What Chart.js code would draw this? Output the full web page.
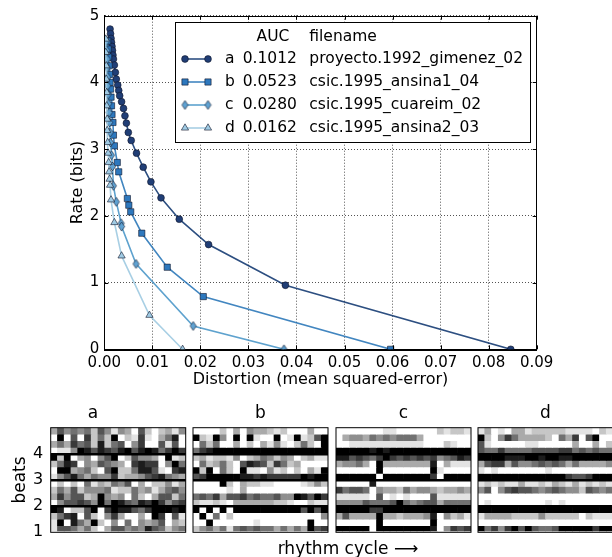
<!DOCTYPE html>
<html><head><meta charset="utf-8">
<script src="https://cdn.jsdelivr.net/npm/chart.js@4.4.0/dist/chart.umd.min.js"></script>
<style>
html,body{margin:0;padding:0;background:#fff;overflow:hidden;width:612px;height:557px;}
#wrap{position:relative;width:612px;height:557px;overflow:hidden;}
canvas{position:absolute;top:0;}
#xlab{position:absolute;left:238px;width:220px;top:538px;text-align:center;font-family:'DejaVu Sans',sans-serif;font-size:17px;line-height:20px;color:#000;white-space:nowrap;}
</style></head>
<body><div id="wrap">
<canvas id="rd" width="612" height="400" style="left:0;top:0"></canvas>
<canvas id="pa" width="188" height="157" style="left:0;top:400px"></canvas>
<canvas id="pb" width="141" height="157" style="left:190px;top:400px"></canvas>
<canvas id="pc" width="141" height="157" style="left:332.5px;top:400px"></canvas>
<canvas id="pd" width="141" height="157" style="left:474.5px;top:400px"></canvas>
<div id="xlab">rhythm cycle &#x27F6;</div>
</div>
<script>
// ---------------- data: rate-distortion curves ----------------
const seriesLetters = ['a','b','c','d'];
const aucValues = ['0.1012','0.0523','0.0280','0.0162'];
const fileNames = ['proyecto.1992_gimenez_02','csic.1995_ansina1_04','csic.1995_cuareim_02','csic.1995_ansina2_03'];

const distA = [0.0012,0.0013,0.0014,0.0015,0.0016,0.0017,0.0018,0.0019,0.0021,0.0023,0.0025,0.0028,0.0030,0.0032,0.0036,0.0040,0.0043,0.0046,0.0050,0.0056,0.0067,0.0081,0.0097,0.0118,0.0156,0.0217,0.0377,0.0846];
const rateA = [4.80,4.73,4.66,4.60,4.54,4.48,4.41,4.35,4.26,4.15,4.05,3.96,3.88,3.80,3.71,3.61,3.50,3.39,3.25,3.13,2.94,2.73,2.51,2.27,1.95,1.57,0.96,0];

const distB = [0.0007,0.0008,0.0009,0.0010,0.0011,0.0012,0.0013,0.0014,0.0015,0.0016,0.0018,0.0019,0.0021,0.0027,0.0030,0.0048,0.0051,0.0055,0.0078,0.0131,0.0206,0.0596];
const rateB = [4.62,4.50,4.38,4.25,4.12,4.00,3.90,3.78,3.65,3.52,3.40,3.21,3.05,2.80,2.66,2.26,2.16,2.06,1.74,1.23,0.79,0];

const distC = [0.0005,0.0005,0.0006,0.0006,0.0007,0.0007,0.0008,0.0009,0.0010,0.0011,0.0012,0.0013,0.0015,0.0017,0.0019,0.0025,0.0035,0.0036,0.0066,0.0185,0.0374];
const rateC = [4.62,4.48,4.35,4.22,4.08,3.95,3.82,3.68,3.55,3.40,3.25,3.10,2.91,2.74,2.45,2.21,1.89,1.84,1.28,0.35,0];

const distD = [0.0003,0.0003,0.0004,0.0004,0.0005,0.0005,0.0006,0.0006,0.0007,0.0008,0.0009,0.0010,0.0011,0.0012,0.0014,0.0021,0.0036,0.0094,0.0163];
const rateD = [4.65,4.45,4.25,4.05,3.85,3.65,3.45,3.28,3.10,2.94,2.80,2.66,2.55,2.46,2.24,1.90,1.40,0.51,0];

// ---------------- data: beat heatmaps (top row first, 0 = white .. 9 = black) ----------------
const beatTickLabels = ['1','2','3','4'];
const cycleLabels = ['1','2','3','4','5','6','7','8','9','10','11','12','13','14','15','16','17','18','19','20'];
const panelTitles = ['a','b','c','d'];
const heatA = [
"36454526414306202314","09060725290217103580","35375628256047006160","01149868768968985797",
"92903404690264430912","25870436543078770495","09934520692258861078","14685354472334678543",
"02020513254603022413","25362444512253413564","37466239434052036625","04667649598658797467",
"98022690798865799989","25780620473003097061","19085392040504346032","16653520366454865245"];
const heatB = [
"00002030433212000300","92194090910090191269","05250030203141025209","57899999999999999999",
"23122140235424302311","05235206876275230000","92905209110412020319","67999998878777779899",
"00009203221100001242","00000103000000000000","56573667565564498697","21121033333322100211",
"90909099999999996969","09050200000000000004","00900000010000000900","24535156565535353967"];
const heatC = [
"00000001100000021221","03443545455530000000","00111111111110002100","99999898999999999999",
"88676579767676745687","34453093333333803111","00000090000000910000","99999909999999709999",
"00000800000000000000","75665043325344323343","11111060101000611111","44446555695456635555",
"99999779999999999999","36333393323334804231","00000090000000900000","99999099999999804767"];
const heatD = [
"13010331222221111021","92047533332053706900","61000001100000300302","65575555666677565655",
"99998889989988999999","36773644565653533334","10100000001000000000","99999999999997667999",
"12121131121321312121","46046766545654426545","00000000000000000000","01000000001010000000",
"99999999999999999999","13333222242222202111","00000000000000000000","95747969655699999799"];

// ---------------- styling ----------------
const FONT = "'DejaVu Sans', sans-serif";
const lineColors = ['rgba(8,48,107,0.85)','rgba(33,113,181,0.85)','rgba(66,146,198,0.85)','rgba(158,202,225,0.9)'];
const markColors = ['rgb(32,62,118)','rgb(45,120,190)','rgb(95,162,210)','rgb(160,203,228)'];
const edgeColor = 'rgba(15,20,40,0.75)';

function thinDiamond(fill){
  const c = document.createElement('canvas'); c.width = 9; c.height = 11;
  const g = c.getContext('2d');
  g.beginPath(); g.moveTo(4.5,1); g.lineTo(7.6,5.5); g.lineTo(4.5,10); g.lineTo(1.4,5.5); g.closePath();
  g.fillStyle = fill; g.fill(); g.lineWidth = 0.8; g.strokeStyle = edgeColor; g.stroke();
  return c;
}
const diamondImg = thinDiamond(markColors[2]);
const pointStyles = ['circle','rect',diamondImg,'triangle'];
const pointRadii = [3.4,4.4,4,4.2];

function pts(xs, ys){ return xs.map((x,i)=>({x:x, y:ys[i]})); }
const allSeries = [pts(distA,rateA),pts(distB,rateB),pts(distC,rateC),pts(distD,rateD)];

const frameTicks = {
  id:'frameTicks',
  afterDraw(chart){
    const {ctx, chartArea:a, scales} = chart;
    ctx.save();
    ctx.strokeStyle = '#000'; ctx.lineWidth = 1;
    ctx.beginPath();
    scales.x.ticks.forEach(t=>{
      const px = Math.round(scales.x.getPixelForValue(t.value))+0.5;
      ctx.moveTo(px,a.bottom); ctx.lineTo(px,a.bottom-4);
      ctx.moveTo(px,a.top); ctx.lineTo(px,a.top+4);
    });
    scales.y.ticks.forEach(t=>{
      const py = Math.round(scales.y.getPixelForValue(t.value))+0.5;
      ctx.moveTo(a.left,py); ctx.lineTo(a.left+4,py);
      ctx.moveTo(a.right,py); ctx.lineTo(a.right-4,py);
    });
    ctx.stroke();
    ctx.strokeRect(Math.round(a.left)+0.5, Math.round(a.top)+0.5, Math.round(a.right-a.left), Math.round(a.bottom-a.top));
    ctx.restore();
  }
};

function drawMarker(ctx, i, x, y){
  ctx.save();
  ctx.fillStyle = markColors[i]; ctx.strokeStyle = edgeColor; ctx.lineWidth = 0.8;
  const r = pointRadii[i];
  ctx.beginPath();
  if (i===0){ ctx.arc(x,y,r,0,Math.PI*2); }
  else if (i===1){ const s=r*Math.SQRT1_2; ctx.rect(x-s,y-s,2*s,2*s); }
  else if (i===2){ ctx.restore(); ctx.drawImage(diamondImg, x-4.5, y-5.5); return; }
  else { ctx.moveTo(x, y-r); ctx.lineTo(x+r*0.866, y+r*0.5); ctx.lineTo(x-r*0.866, y+r*0.5); ctx.closePath(); }
  ctx.fill(); ctx.stroke();
  ctx.restore();
}

const tableLegend = {
  id:'tableLegend',
  afterDraw(chart){
    const ctx = chart.ctx;
    ctx.save();
    ctx.fillStyle = '#fff'; ctx.fillRect(175.5,22.5,355,120);
    ctx.strokeStyle = '#000'; ctx.lineWidth = 1; ctx.strokeRect(175.5,22.5,355,120);
    ctx.font = '15.5px ' + FONT; ctx.fillStyle = '#000'; ctx.textBaseline = 'middle';
    ctx.textAlign = 'center'; ctx.fillText('AUC', 273, 36.5);
    ctx.textAlign = 'left'; ctx.fillText('filename', 309.3, 36.5);
    const rowsY = [59, 82, 105, 128];
    for (let i=0;i<4;i++){
      const y = rowsY[i];
      ctx.strokeStyle = lineColors[i]; ctx.lineWidth = 1.6;
      ctx.beginPath(); ctx.moveTo(185,y); ctx.lineTo(208,y); ctx.stroke();
      drawMarker(ctx,i,185,y); drawMarker(ctx,i,208,y);
      ctx.fillStyle = '#000'; ctx.textAlign = 'left';
      ctx.fillText(seriesLetters[i], 225, y);
      ctx.fillText(aucValues[i], 242.7, y);
      ctx.fillText(fileNames[i], 309.3, y);
    }
    ctx.restore();
  }
};

new Chart(document.getElementById('rd'), {
  type:'line',
  data:{ datasets: allSeries.map((d,i)=>({
    label: seriesLetters[i], data: d,
    borderColor: lineColors[i], borderWidth: 1.6,
    backgroundColor: markColors[i], pointBackgroundColor: markColors[i],
    pointBorderColor: edgeColor, pointBorderWidth: 0.8,
    pointStyle: pointStyles[i], pointRadius: pointRadii[i],
    tension: 0, fill: false, clip: {left:0, top:0, right:0, bottom:0}, order: 4-i
  }))},
  options:{
    responsive:false, animation:false, devicePixelRatio:1,
    layout:{padding:{left:0,right:75.3,top:15.7,bottom:0}},
    plugins:{legend:{display:false}, tooltip:{enabled:false}},
    scales:{
      x:{type:'linear', min:0, max:0.09,
        afterFit(s){ s.height = 50.7; },
        ticks:{stepSize:0.01, callback:v=>v.toFixed(2), font:{family:FONT,size:15}, color:'#000', padding:5, maxRotation:0, autoSkip:false},
        grid:{color:'rgba(0,0,0,0.85)', lineWidth:0.8, drawTicks:false},
        border:{display:true, color:'#000', width:1, dash:[1,2]},
        title:{display:true, text:'Distortion (mean squared-error)', font:{family:FONT,size:16}, color:'#000', padding:{top:0,bottom:11}}
      },
      y:{type:'linear', min:0, max:5,
        afterFit(s){ s.width = 104.3; },
        ticks:{stepSize:1, font:{family:FONT,size:15}, color:'#000', padding:5},
        grid:{color:'rgba(0,0,0,0.85)', lineWidth:0.8, drawTicks:false},
        border:{display:true, color:'#000', width:1, dash:[1,2]},
        title:{display:true, text:'Rate (bits)', font:{family:FONT,size:16}, color:'#000', padding:{top:67.8,bottom:0}}
      }
    }
  },
  plugins:[frameTicks, tableLegend]
});

// ---------------- heatmap panels ----------------
function gray(ch){ const v = Math.round(255*(1 - Number(ch)/9)); return 'rgb('+v+','+v+','+v+')'; }

const panelFrame = {
  id:'panelFrame',
  afterDraw(chart){
    const {ctx, chartArea:a} = chart;
    ctx.save(); ctx.strokeStyle='#000'; ctx.lineWidth=1;
    ctx.strokeRect(a.left, a.top, a.right-a.left, a.bottom-a.top);
    ctx.restore();
  }
};

function makePanel(id, rows, title, first, padL, padR, yWidth){
  const nRows = rows.length;
  const datasets = rows.map((s, ri)=>({
    data: Array.from(s).map(()=>[nRows-1-ri, nRows-ri]),
    backgroundColor: Array.from(s).map(gray),
    borderWidth: 0, barPercentage: 1, categoryPercentage: 1, grouped: false
  }));
  new Chart(document.getElementById(id), {
    type:'bar',
    data:{ labels: cycleLabels, datasets },
    options:{
      responsive:false, animation:false, devicePixelRatio:1,
      layout:{padding:{left:padL, right:padR, top:0, bottom:24.7}},
      plugins:{
        legend:{display:false}, tooltip:{enabled:false},
        title:{display:true, text:title, font:{family:FONT,size:17,weight:'normal'}, color:'#000', padding:{top:3.8,bottom:3.5}}
      },
      scales:{
        x:{type:'category', display:false},
        y:{type:'linear', min:0, max:16, display:true,
          afterFit(s){ s.width = yWidth; },
          ticks:{display:first, stepSize:4, font:{family:FONT,size:16}, color:'#000', padding:7.4,
                 callback:v=> (v<16 ? beatTickLabels[v/4] : '')},
          grid:{z:1, drawTicks:false, lineWidth:2.6,
                color:c=> ([4,8,12].includes(c.tick && c.tick.value) ? '#000' : 'rgba(0,0,0,0)')},
          border:{display:false},
          title:{display:first, text:'beats', font:{family:FONT,size:17}, color:'#000', padding:{top:10.6,bottom:0}}
        }
      }
    },
    plugins:[panelFrame]
  });
}
makePanel('pa', heatA, panelTitles[0], true, 0, 2.3, 50.7);
makePanel('pb', heatB, panelTitles[1], false, 3, 3, 0);
makePanel('pc', heatC, panelTitles[2], false, 3, 3, 0);
makePanel('pd', heatD, panelTitles[3], false, 3, 3, 0);
</script>
</body></html>
